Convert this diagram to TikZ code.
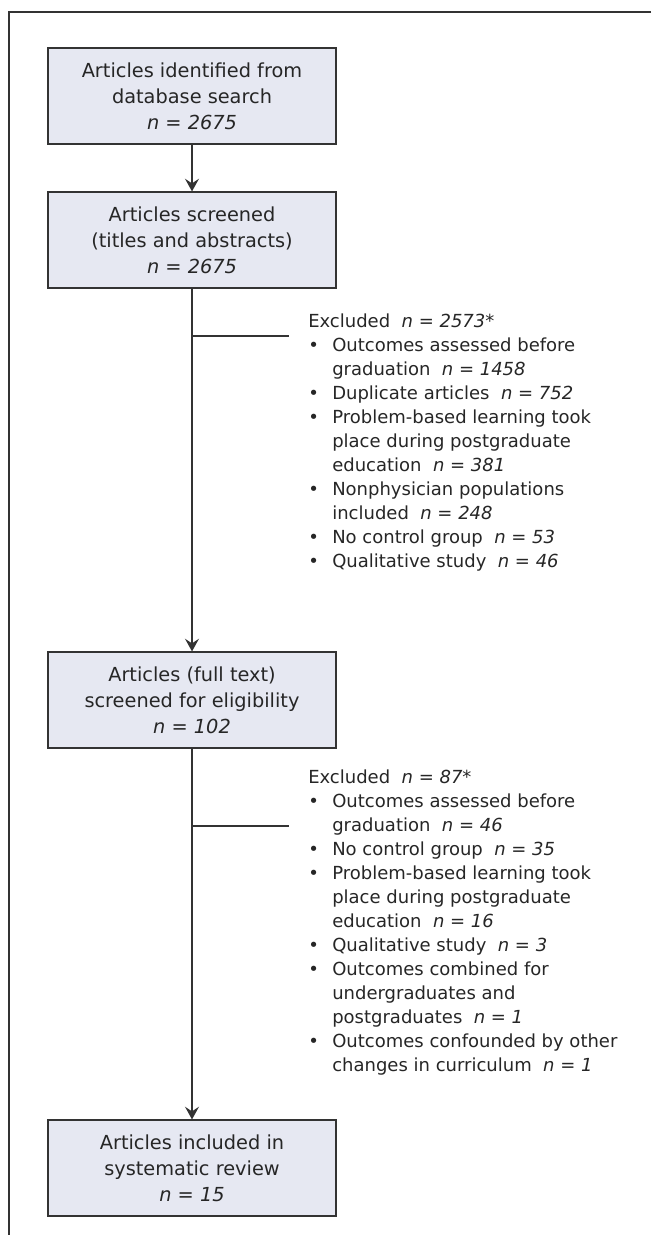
\documentclass[tikz,border=0pt]{standalone}
\usepackage{fontspec}
\setmainfont{DejaVu Sans}
\usetikzlibrary{arrows.meta}
\definecolor{boxfill}{HTML}{E6E8F2}
\definecolor{linegray}{HTML}{333333}
\definecolor{txt}{HTML}{262626}
\tikzset{
  flowbox/.style={draw=linegray, line width=0.9pt, fill=boxfill, minimum width=216pt, minimum height=72pt,
    inner sep=0pt, align=center, text=txt, font=\fontsize{14.5}{19.5}\selectfont},
  flowarrow/.style={draw=linegray, line width=0.9pt, -{Stealth[length=9.5pt,width=10.5pt,inset=3.5pt]}},
  branch/.style={draw=linegray, line width=0.9pt},
  exlist/.style={anchor=base west, inner sep=0pt, text=txt, font=\fontsize{13.5}{18}\selectfont}
}
\newcommand{\nn}[1]{\textit{n = #1}}
\begin{document}
\begin{tikzpicture}[x=0.75pt,y=-0.75pt]
\useasboundingbox (0,0) rectangle (651,1235);
\draw[linegray, line width=1pt] (651,12) -- (9,12) -- (9,1235);

\node[flowbox] (b1) at (192,96) {Articles identified from\\database search\\\nn{2675}};
\node[flowbox] (b2) at (192,240) {Articles screened\\(titles and abstracts)\\\nn{2675}};
\node[flowbox] (b3) at (192,700) {Articles (full text)\\screened for eligibility\\\nn{102}};
\node[flowbox] (b4) at (192,1168) {Articles included in\\systematic review\\\nn{15}};

\draw[flowarrow] (b1.south) -- (b2.north);
\draw[flowarrow] (b2.south) -- (b3.north);
\draw[flowarrow] (b3.south) -- (b4.north);

\coordinate (j1) at (192,336);
\coordinate (e1) at (289,336);
\coordinate (j2) at (192,826);
\coordinate (e2) at (289,826);
\draw[branch] (j1) -- (e1);
\draw[branch] (j2) -- (e2);

\node[exlist] (x1) at (308,327) {\begin{tabular}[t]{@{}p{18pt}@{}l@{}}
\multicolumn{2}{@{}l@{}}{Excluded\ \ \nn{2573*}}\\
\textbullet & Outcomes assessed before\\
 & graduation\ \ \nn{1458}\\
\textbullet & Duplicate articles\ \ \nn{752}\\
\textbullet & Problem-based learning took\\
 & place during postgraduate\\
 & education\ \ \nn{381}\\
\textbullet & Nonphysician populations\\
 & included\ \ \nn{248}\\
\textbullet & No control group\ \ \nn{53}\\
\textbullet & Qualitative study\ \ \nn{46}
\end{tabular}};

\node[exlist] (x2) at (308,783) {\begin{tabular}[t]{@{}p{18pt}@{}l@{}}
\multicolumn{2}{@{}l@{}}{Excluded\ \ \nn{87*}}\\
\textbullet & Outcomes assessed before\\
 & graduation\ \ \nn{46}\\
\textbullet & No control group\ \ \nn{35}\\
\textbullet & Problem-based learning took\\
 & place during postgraduate\\
 & education\ \ \nn{16}\\
\textbullet & Qualitative study\ \ \nn{3}\\
\textbullet & Outcomes combined for\\
 & undergraduates and\\
 & postgraduates\ \ \nn{1}\\
\textbullet & Outcomes confounded by other\\
 & changes in curriculum\ \ \nn{1}
\end{tabular}};
\end{tikzpicture}
\end{document}
